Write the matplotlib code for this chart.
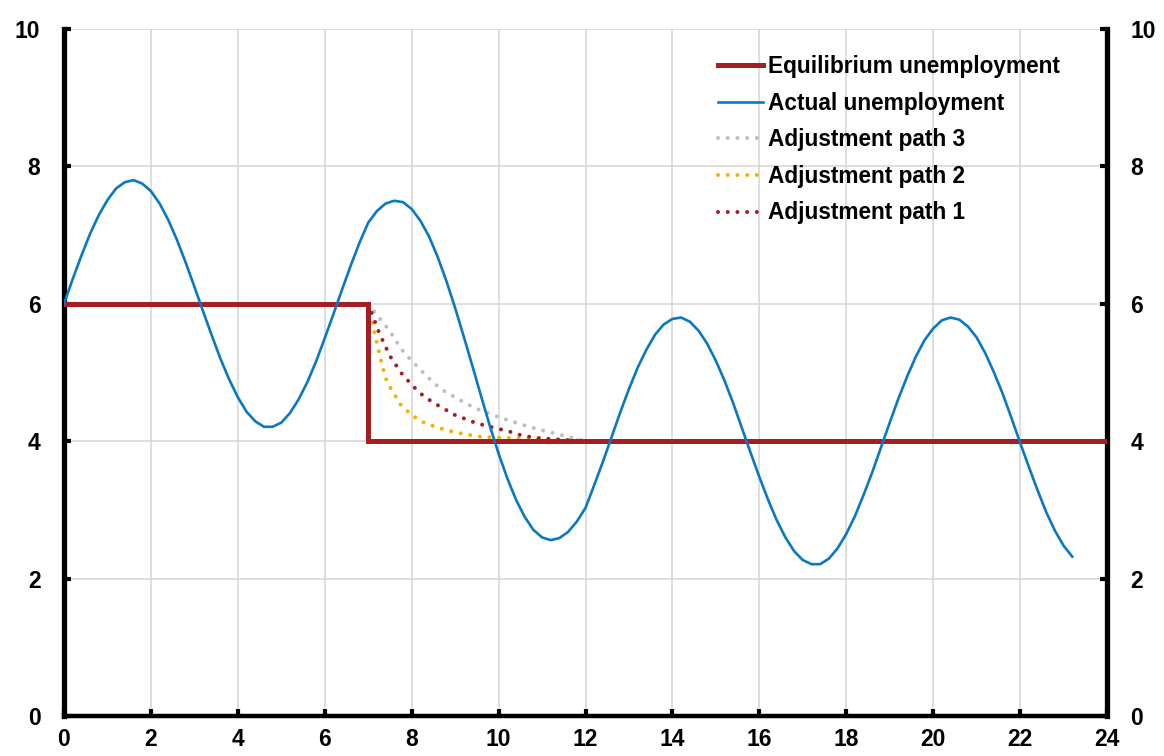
"""
Equilibrium vs actual unemployment chart
Recreates the adjustment-path figure and saves out.png
"""

import matplotlib
matplotlib.use('Agg')
import matplotlib.pyplot as plt

# ==============================================================================
# Plot control panel
# ==============================================================================

FIG_W_PX = 1164
FIG_H_PX = 756
DPI = 100

# axes box in figure pixels (left, right, top, bottom)
AX_LEFT_PX = 64
AX_RIGHT_PX = 1107
AX_TOP_PX = 29
AX_BOTTOM_PX = 716

FONT_FAMILY = ['Liberation Sans', 'DejaVu Sans']
TICK_FONT_SIZE = 16.5
LEGEND_FONT_SIZE = 16.3

X_LIMIT = (0, 24)
Y_LIMIT = (0, 10)
X_TICKS = list(range(0, 25, 2))
Y_TICKS = list(range(0, 11, 2))

COLOR_EQUIL = '#A51E24'
COLOR_ACTUAL = '#0A78C2'
COLOR_PATH3 = '#BFBFBF'
COLOR_PATH2 = '#F5B100'
COLOR_PATH1 = '#A51E24'
COLOR_GRID = '#D4D4D4'

# ==============================================================================
# Data
# ==============================================================================

# equilibrium unemployment: 6 until period 7, then 4
equil_x = [0, 7, 7, 24]
equil_y = [6, 6, 4, 4]

# actual unemployment, sampled every 0.2
actual_x = [round(i * 0.2, 1) for i in range(117)]
actual_y = [
    6.00, 6.36, 6.70, 7.02, 7.29, 7.51, 7.68, 7.77, 7.80, 7.75,
    7.64, 7.46, 7.22, 6.93, 6.60, 6.25, 5.89, 5.54, 5.20, 4.90,
    4.64, 4.43, 4.29, 4.21, 4.21, 4.27, 4.41, 4.61, 4.86, 5.16,
    5.50, 5.85, 6.21, 6.56, 6.89, 7.18, 7.35, 7.46, 7.50, 7.48,
    7.38, 7.21, 6.98, 6.68, 6.33, 5.94, 5.52, 5.09, 4.65, 4.22,
    3.82, 3.46, 3.15, 2.90, 2.71, 2.60, 2.56, 2.59, 2.68, 2.83,
    3.03, 3.36, 3.70, 4.06, 4.42, 4.76, 5.07, 5.33, 5.55, 5.70,
    5.78, 5.80, 5.74, 5.61, 5.42, 5.17, 4.88, 4.55, 4.19, 3.83,
    3.48, 3.15, 2.85, 2.60, 2.40, 2.27, 2.21, 2.21, 2.29, 2.44,
    2.65, 2.91, 3.22, 3.55, 3.91, 4.27, 4.62, 4.94, 5.23, 5.47,
    5.64, 5.76, 5.80, 5.77, 5.67, 5.51, 5.28, 5.00, 4.69, 4.34,
    3.98, 3.63, 3.29, 2.97, 2.70, 2.48, 2.32,
]

# adjustment paths from period 7 to 12
path_x = [7.0, 7.25, 7.5, 7.75, 8.0, 8.25, 8.5, 8.75, 9.0, 9.25, 9.5,
          9.75, 10.0, 10.25, 10.5, 10.75, 11.0, 11.25, 11.5, 11.75, 12.0]
path3_y = [6.00, 5.80, 5.60, 5.35, 5.17, 5.01, 4.85, 4.73, 4.64, 4.55, 4.47,
           4.41, 4.35, 4.30, 4.25, 4.20, 4.16, 4.12, 4.08, 4.04, 4.00]
path1_y = [6.00, 5.58, 5.24, 5.00, 4.82, 4.67, 4.56, 4.47, 4.38, 4.32, 4.26,
           4.22, 4.18, 4.14, 4.09, 4.06, 4.04, 4.03, 4.02, 4.01, 4.00]

path2_x = [7.0, 7.1, 7.2, 7.3, 7.4, 7.5, 7.75, 8.0, 8.25, 8.5, 8.75,
           9.0, 9.25, 9.5, 9.75, 10.0, 10.5, 11.0, 11.5, 12.0]
path2_y = [6.00, 5.70, 5.43, 5.16, 4.92, 4.79, 4.53, 4.38, 4.28, 4.22, 4.17,
           4.13, 4.10, 4.07, 4.06, 4.05, 4.04, 4.03, 4.02, 4.00]

LABELS = [
    'Equilibrium unemployment',
    'Actual unemployment',
    'Adjustment path 3',
    'Adjustment path 2',
    'Adjustment path 1',
]


def setup_plot_style():
    """global style"""
    plt.rcParams['font.family'] = FONT_FAMILY
    plt.rcParams['font.weight'] = 'bold'
    plt.rcParams['axes.linewidth'] = 3.6


def plot_figure():
    fig = plt.figure(figsize=(FIG_W_PX / DPI, FIG_H_PX / DPI), dpi=DPI)
    ax = fig.add_axes([
        AX_LEFT_PX / FIG_W_PX,
        1 - AX_BOTTOM_PX / FIG_H_PX,
        (AX_RIGHT_PX - AX_LEFT_PX) / FIG_W_PX,
        (AX_BOTTOM_PX - AX_TOP_PX) / FIG_H_PX,
    ])

    dots = (0, (0.01, 2.4))
    l_eq, = ax.plot(equil_x, equil_y, color=COLOR_EQUIL, lw=3.6,
                    solid_joinstyle='miter', zorder=4)
    l_act, = ax.plot(actual_x, actual_y, color=COLOR_ACTUAL, lw=1.9, zorder=5)
    l_p3, = ax.plot(path_x, path3_y, color=COLOR_PATH3, lw=2.9, ls=dots,
                    dash_capstyle='round', zorder=3)
    l_p2, = ax.plot(path2_x, path2_y, color=COLOR_PATH2, lw=2.9, ls=dots,
                    dash_capstyle='round', zorder=3)
    l_p1, = ax.plot(path_x, path1_y, color=COLOR_PATH1, lw=2.9, ls=dots,
                    dash_capstyle='round', zorder=3)

    ax.set_xlim(*X_LIMIT)
    ax.set_ylim(*Y_LIMIT)
    ax.set_xticks(X_TICKS)
    ax.set_yticks(Y_TICKS)

    # grid
    ax.grid(True, color=COLOR_GRID, lw=1.1)
    ax.set_axisbelow(True)

    # spines: no top
    ax.spines['top'].set_visible(False)
    ax.spines['left'].set_linewidth(3.8)
    ax.spines['right'].set_linewidth(3.8)
    ax.spines['bottom'].set_linewidth(3.2)

    ax.tick_params(axis='both', direction='in', length=5, width=3,
                   labelsize=TICK_FONT_SIZE)
    ax.tick_params(axis='y', left=True, right=True, labelleft=True,
                   labelright=True)
    ax.tick_params(axis='y', which='both', pad=17)
    ax.tick_params(axis='x', pad=9, top=False)
    for lab in ax.get_xticklabels() + ax.get_yticklabels():
        lab.set_fontweight('bold')

    leg = ax.legend(
        [l_eq, l_act, l_p3, l_p2, l_p1], LABELS,
        loc='upper left', bbox_to_anchor=(0.627, 0.962),
        frameon=False,
        handlelength=2.0, handletextpad=0.2, labelspacing=0.6,
        borderpad=0, borderaxespad=0,
        prop={'weight': 'bold', 'size': LEGEND_FONT_SIZE},
    )
    leg.set_zorder(6)

    fig.savefig('out.png', dpi=DPI)
    plt.close(fig)


def main():
    setup_plot_style()
    plot_figure()


if __name__ == "__main__":
    main()
